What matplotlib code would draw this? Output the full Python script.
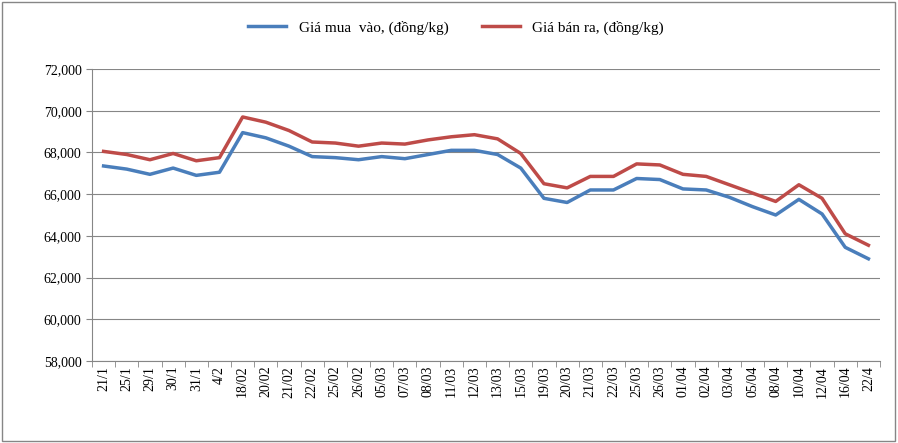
import matplotlib
matplotlib.use("Agg")
import matplotlib.pyplot as plt
from matplotlib.patches import Rectangle

categories = ["21/1","25/1","29/1","30/1","31/1","4/2","18/02","20/02","21/02","22/02","25/02","26/02",
              "05/03","07/03","08/03","11/03","12/03","13/03","15/03","19/03","20/03","21/03","22/03",
              "25/03","26/03","01/04","02/04","03/04","05/04","08/04","10/04","12/04","16/04","22/4"]
buy = [67350,67200,66950,67250,66900,67050,68950,68700,68300,67800,67750,67650,67800,67700,67900,68100,
       68100,67900,67250,65800,65600,66200,66200,66750,66700,66250,66200,65850,65400,65000,65750,65050,63450,62900]
sell = [68050,67900,67650,67950,67600,67750,69700,69450,69050,68500,68450,68300,68450,68400,68600,68750,
        68850,68650,67950,66500,66300,66850,66850,67450,67400,66950,66850,66450,66050,65650,66450,65800,64100,63550]
yticks = list(range(58000, 72001, 2000))

plt.rcParams["font.family"] = "Liberation Serif"
fig = plt.figure(figsize=(8.98, 4.43), dpi=100)
ax = fig.add_axes([92/898, 1-361/443, (880-92)/898, (361-69)/443])
x = range(len(categories))
ax.plot(x, buy, color="#4a7ebb", lw=2.5, label="Giá mua  vào, (đồng/kg)")
ax.plot(x, sell, color="#be4b48", lw=2.5, label="Giá bán ra, (đồng/kg)")
ax.set_ylim(58000, 72000)
ax.set_xlim(-0.5, len(categories)-0.5)
ax.set_yticks(yticks)
ax.set_yticklabels([f"{v:,}" for v in yticks], fontsize=10)
ax.set_xticks(list(x))
ax.set_xticklabels(categories, rotation=90, fontsize=10)
ax.grid(axis="y", color="#868686", lw=0.8)
ax.set_axisbelow(True)
for s in ["top", "right"]:
    ax.spines[s].set_visible(False)
for s in ["left", "bottom"]:
    ax.spines[s].set_color("#868686")
ax.tick_params(axis="y", length=4, color="#868686")
ax.set_xticks([i - 0.5 for i in range(len(categories)+1)], minor=True)
ax.tick_params(axis="x", which="major", length=0)
ax.tick_params(axis="x", which="minor", length=4, color="#868686")
fig.legend(loc="upper center", bbox_to_anchor=(0.508, 0.985), ncol=2, frameon=False, fontsize=11,
           handlelength=2.5, columnspacing=2.2)
fig.patches.append(Rectangle((0.002, 0.004), 0.995, 0.992, transform=fig.transFigure,
                             fill=False, edgecolor="#868686", lw=1))
fig.savefig("out.png", dpi=100)
